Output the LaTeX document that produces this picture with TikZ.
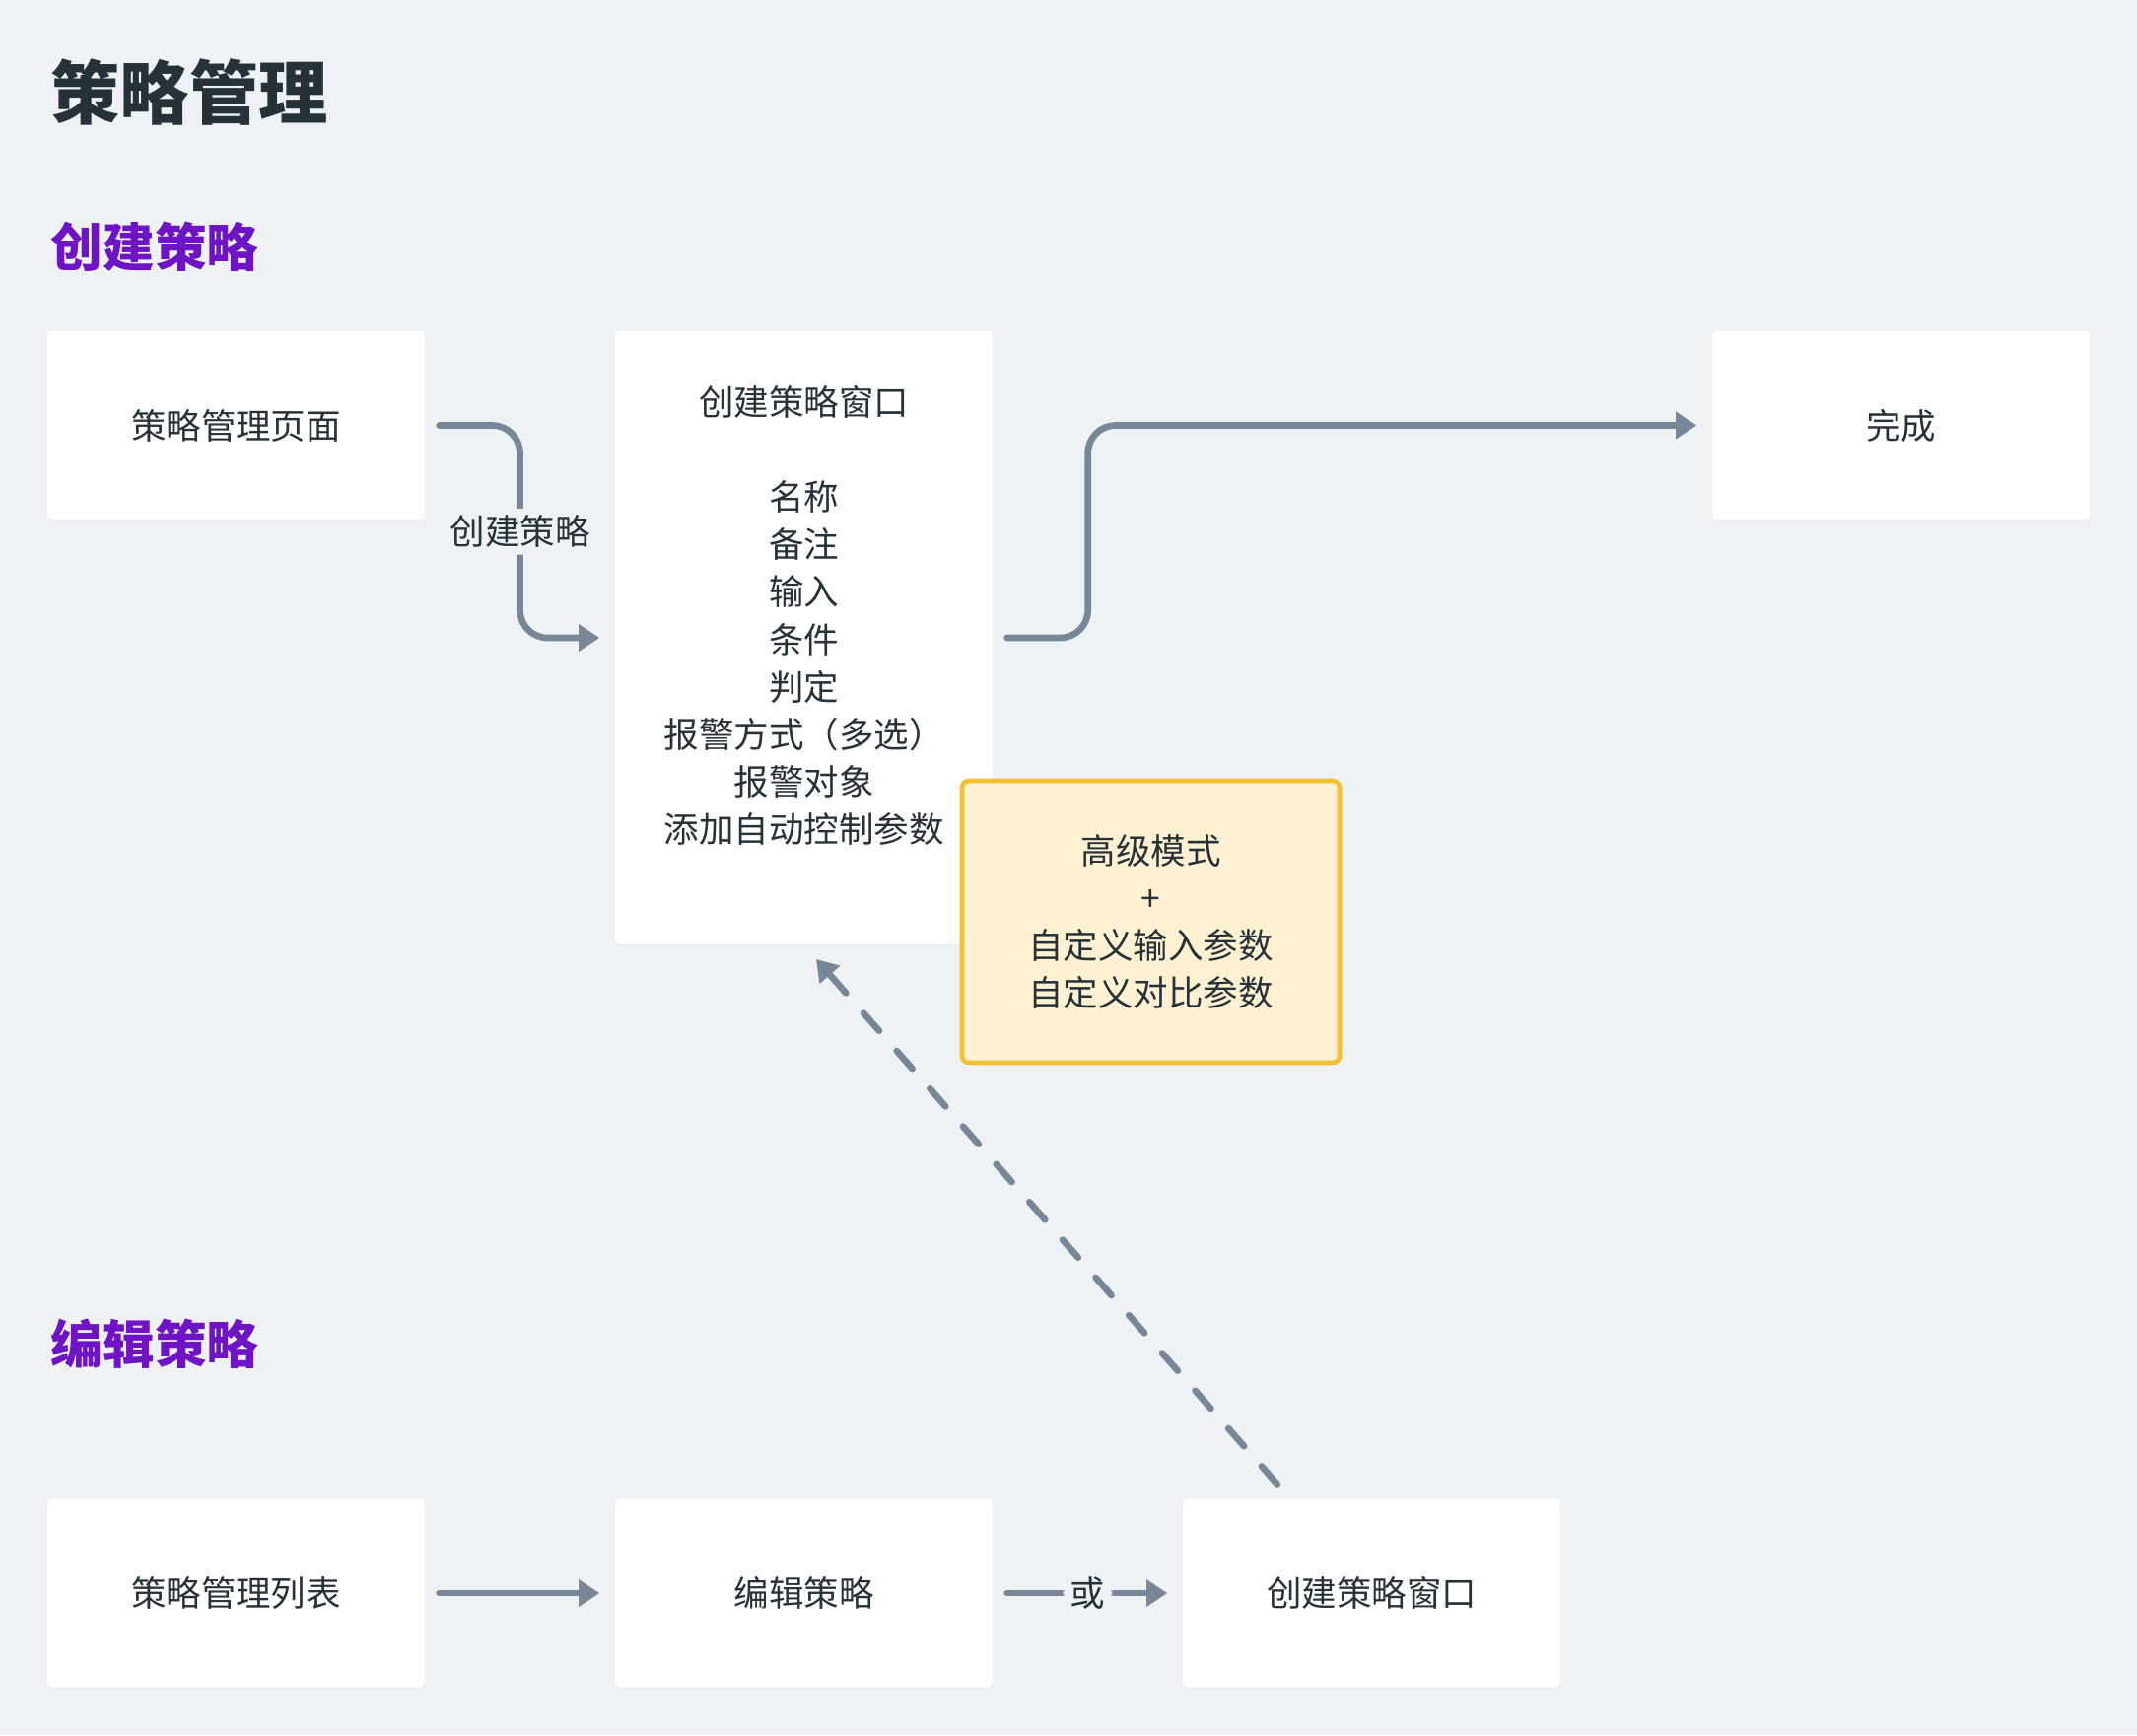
\documentclass[tikz,border=0pt]{standalone}
\usepackage{fontspec}
\setmainfont{Noto Sans CJK SC}
\usepackage{tikz}
\usetikzlibrary{calc,arrows.meta,shadows}
\definecolor{bggrey}{HTML}{EEF2F5}
\definecolor{inkgrey}{HTML}{263238}
\definecolor{linegrey}{HTML}{778797}
\definecolor{headpurple}{HTML}{6E14C4}
\definecolor{notefill}{HTML}{FFF1D2}
\definecolor{noteedge}{HTML}{F4C02F}
\newcommand\boxfont{\fontsize{10.1}{13.7}\selectfont}
\tikzstyle{whitebox}=[rectangle,fill=white,rounded corners=1.2pt,
                      minimum width=3.83cm,minimum height=1.91cm,
                      font=\boxfont,text=inkgrey,align=center,inner sep=0pt,
                      drop shadow={shadow xshift=0pt,shadow yshift=-0.5pt,opacity=0.05}]
\tikzstyle{notebox}=[whitebox,fill=notefill,draw=noteedge,line width=1.3pt,
                     rounded corners=2pt,minimum height=2.86cm]
\tikzstyle{flow}=[draw=linegrey,line width=1.9pt,line cap=round,rounded corners=8pt,
                  -{Triangle[length=6pt,width=7.5pt]},
                  shorten <=0.14cm,shorten >=0.15cm]
\tikzstyle{flowlabel}=[fill=bggrey,font=\boxfont,text=inkgrey,inner sep=2pt]
\tikzstyle{heading}=[anchor=west,inner sep=0pt,text=headpurple,
                     font=\fontsize{15}{18}\selectfont\bfseries]
\newcommand\colone{2.395}
\newcommand\coltwo{8.155}
\newcommand\rowtop{-4.315}
\newcommand\rowbottom{-16.16}

\begin{document}
\begin{tikzpicture}
    	\fill[bggrey] (0,0) rectangle (21.68,-17.60);
    	\node [anchor=west,inner sep=0pt,text=inkgrey,font=\fontsize{20}{24}\selectfont\bfseries] (Titulo) at (0.51,-0.94) {策略管理};
    	\node [heading] (Crear) at (0.51,-2.50) {创建策略};
    	\node [heading] (Editar) at (0.51,-13.63) {编辑策略};
    	\node [whitebox] (Pagina) at (\colone,\rowtop) {策略管理页面};
    	\node [whitebox,minimum height=6.22cm] (Ventana) at (\coltwo,-6.47) {
    		创建策略窗口\\ ~\\ 名称\\ 备注\\ 输入\\ 条件\\ 判定\\ 报警方式（多选）\\ 报警对象\\ 添加自动控制参数\\ ~
    	};
    	\node [whitebox] (Completo) at (19.285,\rowtop) {完成};
    	\node [notebox] (Avanzado) at (11.675,-9.35) {
    		高级模式\\ +\\ 自定义输入参数\\ 自定义对比参数
    	};
    	\node [whitebox] (Lista) at (\colone,\rowbottom) {策略管理列表};
    	\node [whitebox] (Editor) at (\coltwo,\rowbottom) {编辑策略};
    	\node [whitebox] (VentanaDos) at (13.915,\rowbottom) {创建策略窗口};
    	\draw [flow] (Pagina.east) -| ($(Pagina.east)!.5!(Ventana.west)$) node [flowlabel] {创建策略} |- (Ventana.west);
    	\draw [flow] (Ventana.east) -- ++(0.96,0) |- (Completo.west);
    	\draw [flow] (Lista) -- (Editor);
    	\draw [flow] (Editor) -- node [flowlabel] {或} (VentanaDos);
    	\draw [flow,dash pattern=on 0.24cm off 0.27cm,shorten <=0.19cm,shorten >=0.19cm] ($(VentanaDos.north west)+(1.09,0)$) -- (Ventana.south);
    \end{tikzpicture}
\end{document}
